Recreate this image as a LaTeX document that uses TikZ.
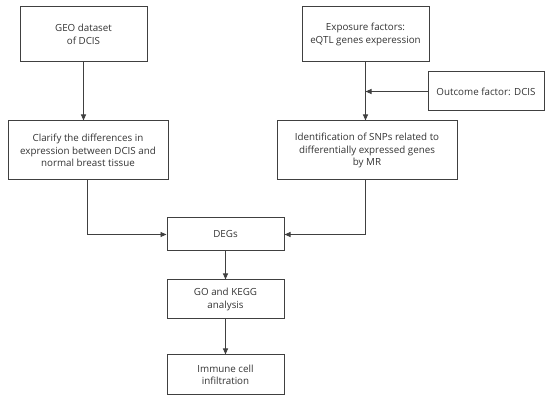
\documentclass[tikz,border=0pt]{standalone}
\usepackage{fontspec}
\setmainfont{Open Sans}
\usetikzlibrary{arrows.meta}
\begin{document}
\begin{tikzpicture}[x=1pt,y=-1pt,
  box/.style={draw=black!75,line width=1pt,align=center,font=\fontsize{9.8}{12.5}\selectfont,text=black!80,inner sep=0pt},
  arr/.style={draw=black!75,line width=0.9pt,-{Triangle[length=6pt,width=5pt]}}]
\useasboundingbox (0,0) rectangle (550,401);
\node[box,minimum width=127pt,minimum height=55pt] (geo) at (83.5,34.5) {GEO dataset\\of DCIS};
\node[box,minimum width=160pt,minimum height=59pt] (clar) at (88,150.5) {Clarify the differences in\\expression between DCIS and\\normal breast tissue};
\node[box,minimum width=127pt,minimum height=55pt] (exp) at (365.5,34.5) {Exposure factors:\\eQTL genes experession};
\node[box,minimum width=116pt,minimum height=39pt] (out) at (486,91.5) {Outcome factor: DCIS};
\node[box,minimum width=180pt,minimum height=59pt] (ident) at (367,150.5) {Identification of SNPs related to\\differentially expressed genes\\by MR};
\node[box,minimum width=117pt,minimum height=33pt] (deg) at (225.5,234.5) {DEGs};
\node[box,minimum width=117pt,minimum height=39pt] (go) at (225.5,299.5) {GO and KEGG\\analysis};
\node[box,minimum width=117pt,minimum height=40pt] (imm) at (225.5,375) {Immune cell\\infiltration};
\coordinate (j) at (exp.south |- out.west);
\draw[arr] (geo.south) -- (geo.south |- clar.north);
\draw[arr] (exp.south) -- (exp.south |- ident.north);
\draw[arr] (out.west) -- (j);
\draw[arr] ([xshift=-1pt]clar.south) |- (deg.west);
\draw[arr] (ident.south -| exp.south) |- (deg.east);
\draw[arr] (deg) -- (go);
\draw[arr] (go) -- (imm);
\end{tikzpicture}
\end{document}
